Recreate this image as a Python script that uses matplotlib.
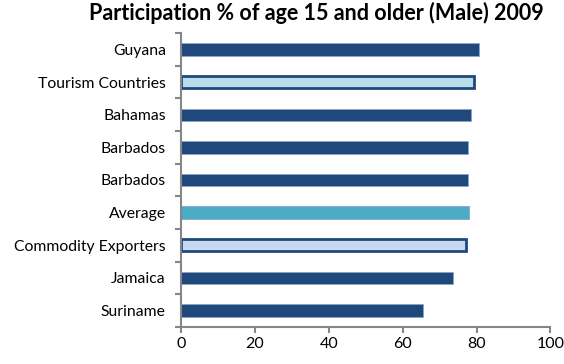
import matplotlib.pyplot as plt
import numpy as np

plt.rcParams['font.family'] = ['Lato', 'DejaVu Sans']

countries = ["Guyana", "Tourism Countries", "Bahamas", "Barbados", "Barbados",
             "Average", "Commodity Exporters", "Jamaica", "Suriname"]
values = [80.7, 79.3, 78.5, 77.8, 77.8, 78.0, 77.1, 73.5, 65.5]
fills = ["#1F497D", "#B7DDE8", "#1F497D", "#1F497D", "#1F497D",
         "#4BACC6", "#C6D9F1", "#1F497D", "#1F497D"]

fig = plt.figure(figsize=(5.64, 3.64), dpi=100)
ax = fig.add_axes([0.321, 0.102, 0.655, 0.807])

y = np.arange(len(countries))[::-1]
for yi, v, c in zip(y, values, fills):
    if c in ("#B7DDE8", "#C6D9F1"):
        ax.barh(yi, v, height=0.38, color=c, edgecolor="#1F497D", linewidth=2)
    else:
        ax.barh(yi, v, height=0.38, color=c, edgecolor="#8DA4C4", linewidth=0.6)

ax.set_xlim(0, 100)
ax.set_ylim(-0.5, len(countries) - 0.5)
ax.set_xticks(np.arange(0, 101, 20))
ax.set_yticks(y)
ax.set_yticklabels(countries)
ax.set_yticks(np.arange(-0.5, len(countries), 1), minor=True)
ax.tick_params(axis='y', which='major', length=0, pad=11, labelsize=11.3)
ax.tick_params(axis='y', which='minor', length=4, color="#868686", width=1.5)
ax.tick_params(axis='x', length=4, color="#868686", width=1.5, labelsize=11.5)

for s in ["top", "right"]:
    ax.spines[s].set_visible(False)
for s in ["left", "bottom"]:
    ax.spines[s].set_color("#868686")
    ax.spines[s].set_linewidth(1.5)

fig.suptitle("Participation % of age 15 and older (Male) 2009",
             x=0.561, y=0.995, fontsize=15.5, fontweight='bold')

fig.savefig("out.png", dpi=100)
